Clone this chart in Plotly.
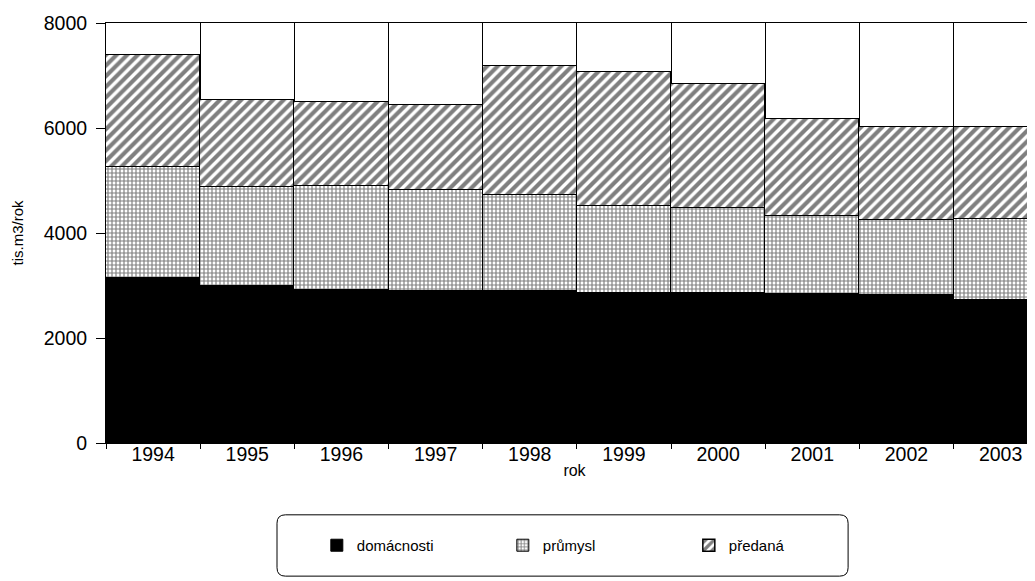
import plotly.graph_objects as go

years = ["1994", "1995", "1996", "1997", "1998", "1999", "2000", "2001", "2002", "2003"]
domacnosti = [3140, 2990, 2910, 2900, 2890, 2860, 2850, 2840, 2810, 2730]
prumysl = [2110, 1880, 1990, 1925, 1840, 1645, 1620, 1490, 1430, 1535]
predana = [2150, 1670, 1590, 1620, 2445, 2565, 2360, 1850, 1780, 1750]
yticks = [0, 2000, 4000, 6000, 8000]

FONT = "Liberation Sans, Arial, sans-serif"

fig = go.Figure()
fig.add_trace(go.Bar(
    x=years, y=domacnosti, name="domácnosti",
    marker=dict(color="black", line=dict(color="black", width=1)),
))
fig.add_trace(go.Bar(
    x=years, y=prumysl, name="průmysl",
    marker=dict(color="white", line=dict(color="black", width=1),
                pattern=dict(shape="+", fgcolor="black", bgcolor="white",
                             size=4, solidity=0.5, fillmode="overlay")),
))
fig.add_trace(go.Bar(
    x=years, y=predana, name="předaná",
    marker=dict(color="white", line=dict(color="black", width=1.5),
                pattern=dict(shape="/", fgcolor="black", bgcolor="white",
                             size=7.5, solidity=0.55, fillmode="overlay")),
))

# rounded legend frame (decoration)
x0, x1 = 0.1825, 0.792
y0, y1 = -0.317, -0.171
rx, ry = 0.009, 0.02
path = (f"M {x0+rx},{y1} L {x1-rx},{y1} Q {x1},{y1} {x1},{y1-ry} "
        f"L {x1},{y0+ry} Q {x1},{y0} {x1-rx},{y0} "
        f"L {x0+rx},{y0} Q {x0},{y0} {x0},{y0+ry} "
        f"L {x0},{y1-ry} Q {x0},{y1} {x0+rx},{y1} Z")

fig.update_layout(
    width=1035, height=581,
    margin=dict(l=98, r=0, t=15, b=146, autoexpand=False),
    barmode="stack", bargap=0,
    paper_bgcolor="white", plot_bgcolor="white",
    font=dict(family=FONT, color="black", size=17),
    showlegend=True,
    legend=dict(orientation="h", x=0.225, xanchor="left", y=-0.244, yanchor="middle",
                font=dict(size=15, family=FONT, color="black"),
                entrywidth=141, entrywidthmode="pixels",
                bgcolor="rgba(0,0,0,0)", borderwidth=0, traceorder="normal"),
    shapes=[dict(type="path", path=path, xref="paper", yref="paper",
                 line=dict(color="black", width=1), fillcolor="rgba(0,0,0,0)")],
    xaxis=dict(
        type="category", range=[-0.5, 9.45],
        tickson="boundaries", ticks="outside", ticklen=5, tickcolor="black",
        ticklabelstandoff=-6,
        showgrid=True, gridcolor="black", gridwidth=1,
        showline=True, linecolor="black", linewidth=1, mirror=True,
        tickfont=dict(size=19.5, family=FONT),
        title=dict(text="rok", font=dict(size=16, family=FONT), standoff=0),
        zeroline=False, automargin=False,
    ),
    yaxis=dict(
        range=[0, 8000], tickvals=yticks, ticktext=[str(v) for v in yticks],
        ticks="outside", ticklen=9, tickcolor="black",
        ticklabelstandoff=5,
        showgrid=False, zeroline=False,
        showline=True, linecolor="black", linewidth=1,
        tickfont=dict(size=19.5, family=FONT),
        title=dict(text="tis.m3/rok", font=dict(size=15, family=FONT), standoff=16),
        automargin=False,
    ),
)

fig.write_html("out.html")
